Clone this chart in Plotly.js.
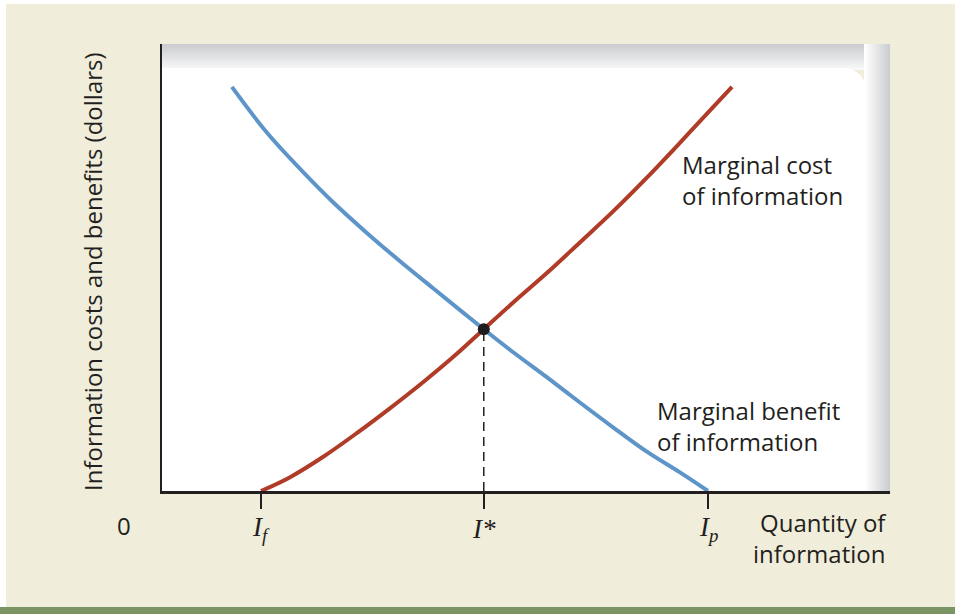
<!DOCTYPE html>
<html>
<head>
<meta charset="utf-8">
<script src="https://cdn.plot.ly/plotly-3.0.1.min.js"></script>
<style>
  html, body { margin: 0; padding: 0; background: #f0edda; }
  #chart { width: 955px; height: 614px; }
</style>
</head>
<body>
<div id="chart"></div>
<script>
// marginal benefit of information (falls as quantity grows)
let mbX = [0.96, 1.44, 1.90, 2.35, 2.81, 3.27, 3.72, 4.42, 4.82, 5.29, 5.74, 6.20, 6.66, 7.12, 7.50];
let mbY = [9.04, 8.02, 7.20, 6.46, 5.78, 5.14, 4.54, 3.62, 3.11, 2.54, 1.98, 1.42, 0.88, 0.41, 0.00];

// marginal cost of information (rises as quantity grows)
let mcX = [1.36, 1.76, 2.21, 2.68, 3.13, 3.59, 4.05, 4.42, 4.82, 5.29, 5.74, 6.20, 6.66, 7.12, 7.57, 7.83];
let mcY = [0.00, 0.31, 0.76, 1.30, 1.85, 2.44, 3.07, 3.62, 4.21, 4.88, 5.56, 6.26, 7.01, 7.80, 8.59, 9.04];

let tickVals = [1.36, 4.42, 7.50];
let tickLabels = ['<i>I</i><sub><i>f</i></sub>', '<i>I*</i>', '<i>I</i><sub><i>p</i></sub>'];
let optimum = {x: 4.42, y: 3.62};

// plot box in page pixels
let L = 162, R = 890, T = 44, B = 491;
function px(x) { return (x - L) / (R - L); }
function py(y) { return (B - y) / (B - T); }

let textFont = {family: 'Open Sans, Liberation Sans, Arial', size: 24, color: '#231f20'};

let bgSvg =
  "<svg xmlns='http://www.w3.org/2000/svg' width='728' height='447' viewBox='0 0 728 447' preserveAspectRatio='none'>" +
  "<defs>" +
  "<linearGradient id='t' x1='0' y1='0' x2='0' y2='1'><stop offset='0' stop-color='#c9cbcf'/><stop offset='1' stop-color='#fafafa'/></linearGradient>" +
  "<linearGradient id='r' x1='0' y1='0' x2='1' y2='0'><stop offset='0' stop-color='#ffffff'/><stop offset='0.3' stop-color='#f1f1f2'/><stop offset='1' stop-color='#c9cbcf'/></linearGradient>" +
  "</defs>" +
  "<rect x='0' y='0' width='728' height='26' fill='url(#t)'/>" +
  "<rect x='702' y='0' width='26' height='447' fill='url(#r)'/>" +
  "<rect x='0' y='24' width='704' height='423' rx='22' fill='#ffffff'/>" +
  "<rect x='0' y='24' width='60' height='423' fill='#ffffff'/>" +
  "<rect x='0' y='380' width='703' height='67' fill='#ffffff'/>" +
  "</svg>";

let traces = [
  {
    x: [optimum.x, optimum.x], y: [0, optimum.y],
    type: 'scatter', mode: 'lines',
    line: {color: '#231f20', width: 1.5, dash: '9px,6px'},
    hoverinfo: 'skip'
  },
  {
    x: mbX, y: mbY, type: 'scatter', mode: 'lines',
    line: {color: '#5e95c9', width: 4, shape: 'spline'},
    name: 'Marginal benefit'
  },
  {
    x: mcX, y: mcY, type: 'scatter', mode: 'lines',
    line: {color: '#b03b27', width: 4, shape: 'spline'},
    name: 'Marginal cost'
  },
  {
    x: [optimum.x], y: [optimum.y], type: 'scatter', mode: 'markers',
    marker: {color: '#1e1c1d', size: 12},
    name: 'I*'
  }
];

let annotations = [
  {xref: 'paper', yref: 'paper', x: px(92), y: py(272), text: 'Information costs and benefits (dollars)',
   xanchor: 'center', yanchor: 'middle', textangle: -90, showarrow: false, font: textFont},
  {xref: 'paper', yref: 'paper', x: px(124), y: py(525), text: '0',
   xanchor: 'center', yanchor: 'middle', showarrow: false, font: textFont},
  {xref: 'paper', yref: 'paper', x: px(889), y: py(538), text: 'Quantity of<br>information',
   xanchor: 'right', yanchor: 'middle', align: 'right', showarrow: false, font: textFont},
  {xref: 'paper', yref: 'paper', x: px(680), y: py(180), text: 'Marginal cost<br>of information',
   xanchor: 'left', yanchor: 'middle', align: 'left', showarrow: false, font: textFont},
  {xref: 'paper', yref: 'paper', x: px(655), y: py(426), text: 'Marginal benefit<br>of information',
   xanchor: 'left', yanchor: 'middle', align: 'left', showarrow: false, font: textFont}
];

tickVals.forEach((v, i) => {
  annotations.push({
    xref: 'x', yref: 'paper', x: v, y: py(529), text: tickLabels[i],
    xanchor: 'center', yanchor: 'middle', showarrow: false,
    font: {family: 'Liberation Serif, DejaVu Serif, serif', size: 27, color: '#231f20'}
  });
});

let layout = {
  width: 955, height: 614,
  margin: {l: L, r: 955 - R, t: T, b: 614 - B},
  paper_bgcolor: '#f0edda',
  plot_bgcolor: 'rgba(0,0,0,0)',
  showlegend: false,
  xaxis: {
    range: [0, 10], showgrid: false, zeroline: false,
    showline: true, linecolor: '#231f20', linewidth: 2.5,
    tickvals: tickVals, ticks: 'outside', ticklen: 15, tickwidth: 1.5, tickcolor: '#231f20',
    showticklabels: false, fixedrange: true
  },
  yaxis: {
    range: [0, 10], showgrid: false, zeroline: false,
    showline: true, linecolor: '#231f20', linewidth: 2.5,
    ticks: '', showticklabels: false, fixedrange: true
  },
  images: [{
    source: 'data:image/svg+xml;charset=utf-8,' + encodeURIComponent(bgSvg),
    xref: 'paper', yref: 'paper', x: 0, y: 1, sizex: 1, sizey: 1,
    xanchor: 'left', yanchor: 'top', sizing: 'stretch', layer: 'below'
  }],
  shapes: [
    // white page edge at top and left, green strip at bottom
    {type: 'rect', xref: 'paper', yref: 'paper', x0: px(0), x1: px(955), y0: py(0), y1: py(4),
     fillcolor: '#ffffff', line: {width: 0}, layer: 'below'},
    {type: 'rect', xref: 'paper', yref: 'paper', x0: px(0), x1: px(6), y0: py(0), y1: py(614),
     fillcolor: '#ffffff', line: {width: 0}, layer: 'below'},
    {type: 'rect', xref: 'paper', yref: 'paper', x0: px(0), x1: px(955), y0: py(607), y1: py(614),
     fillcolor: '#7a9563', line: {width: 0}, layer: 'below'}
  ],
  annotations: annotations
};

Plotly.newPlot('chart', traces, layout, {displayModeBar: false, staticPlot: true});
</script>
</body>
</html>
